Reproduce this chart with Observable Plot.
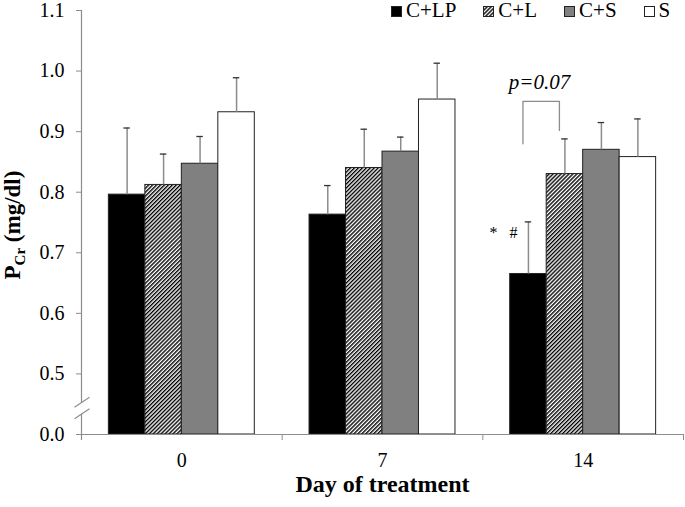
<!DOCTYPE html>
<html><head><meta charset="utf-8">
<script src="https://cdn.jsdelivr.net/npm/d3@7"></script>
<script src="https://cdn.jsdelivr.net/npm/@observablehq/plot@0.6"></script>
<style>
body{margin:0;background:#fff;}
#wrap{position:relative;width:685px;height:507px;font-family:"Liberation Serif","Times New Roman",serif;}
#legend{position:absolute;left:391px;top:0px;font-size:21px;line-height:21px;white-space:nowrap;color:#000;z-index:2;}
#legend .item{display:inline-block;margin-right:27px;}
#legend svg{vertical-align:baseline;margin-right:4px;}
g[aria-label="fx-axis label"] text{font-weight:bold;font-size:24px;}
</style></head>
<body>
<svg width="0" height="0" style="position:absolute">
<defs><pattern id="hatch" patternUnits="userSpaceOnUse" width="2.8" height="2.8" patternTransform="rotate(45)">
<rect width="2.8" height="2.8" fill="white"/><rect width="1.4" height="2.8" fill="black"/></pattern></defs></svg>
<div id="wrap"><div id="legend"></div></div>
<script>
// ---- data ----
const days = ["0", "7", "14"];
const groups = ["C+LP", "C+L", "C+S", "S"];
const meanCLP = [0.796, 0.763, 0.665];
const meanCL  = [0.812, 0.840, 0.830];
const meanCS  = [0.847, 0.867, 0.870];
const meanS   = [0.932, 0.953, 0.858];
const errCLP = [0.110, 0.048, 0.086];
const errCL  = [0.051, 0.064, 0.058];
const errCS  = [0.045, 0.024, 0.045];
const errS   = [0.057, 0.060, 0.063];
const yTickValues = [0.4, 0.5, 0.6, 0.7, 0.8, 0.9, 1.0, 1.1];
const yTickLabels = ["0.0", "0.5", "0.6", "0.7", "0.8", "0.9", "1.0", "1.1"];
const axisZero = 0.4;          // display position of 0.0 on the broken axis
const yMax = 1.1;
const breakTop = 0.4525, breakBottom = 0.4335; // axis break
const xTitle = "Day of treatment";
const pText = "p=0.07";
const pY = 0.9818;
const bracketDay = "14";
const bracketGroups = ["C+LP", "C+LP", "C+L", "C+L"];
const bracketY = [0.880, 0.950, 0.950, 0.902];
const sigText = "*\u00a0\u00a0\u00a0#";
const groupFills = ["black", "url(#hatch)", "#808080", "white"];

const means = [meanCLP, meanCL, meanCS, meanS];
const errs = [errCLP, errCL, errCS, errS];
const rows = [];
groups.forEach((g, gi) => days.forEach((d, di) =>
  rows.push({day: d, group: g, value: means[gi][di], err: errs[gi][di]})));
const bracketRows = bracketGroups.map((g, i) => ({day: bracketDay, group: g, y: bracketY[i]}));
const sigRows = rows.filter(r => r.day === "14" && r.group === "C+LP");

const W = 685, H = 507, mL = 81, mR = 2, mT = 10, mB = 73;
const fxStep = (W - mL - mR) / days.length;
const axisGray = "#8c8c8c";

const chart = Plot.plot({
  width: W, height: H,
  marginTop: mT, marginBottom: mB, marginLeft: mL, marginRight: mR,
  style: {fontFamily: "Liberation Serif, Times New Roman, serif", fontSize: "20px", background: "white", color: "black"},
  fx: {domain: days, padding: 0, round: false},
  x: {domain: groups, paddingInner: 0, paddingOuter: 0.75, round: false, axis: null},
  y: {domain: [axisZero, yMax]},
  color: {domain: groups, range: groupFills},
  marks: [
    Plot.barY(rows, {fx: "day", x: "group", y1: axisZero, y2: "value", fill: "group", stroke: "#222", strokeWidth: 1}),
    Plot.ruleX(rows, {fx: "day", x: "group", y1: "value", y2: d => d.value + d.err, stroke: axisGray, strokeWidth: 1.5}),
    Plot.tickY(rows, {fx: "day", x: "group", y: d => d.value + d.err, stroke: "#333", strokeWidth: 1.3, insetLeft: 15, insetRight: 15}),
    Plot.ruleY([axisZero], {stroke: axisGray, strokeWidth: 1.2}),
    Plot.axisY(yTickValues, {tickFormat: d => yTickLabels[yTickValues.indexOf(d)], tickSize: 5, tickPadding: 12, stroke: axisGray, fill: "black", label: null}),
    Plot.axisFx({anchor: "bottom", tickSize: 0, tickPadding: 18, label: xTitle, labelAnchor: "center", labelOffset: 57, fill: "black"}),
    Plot.axisFx({anchor: "bottom", tickSize: 6, fill: "none", dx: fxStep / 2, stroke: axisGray, label: null}),
    Plot.line(bracketRows, {fx: "day", x: "group", y: "y", stroke: axisGray, strokeWidth: 1.3, dx: -5.5}),
    Plot.text([pText], {fx: () => bracketDay, x: () => "C+LP", y: () => pY, text: d => d, fontStyle: "italic", fontSize: 21, dx: 11, lineAnchor: "middle"}),
    Plot.text(sigRows, {fx: "day", x: "group", y: d => d.value + d.err, text: () => sigText, fontSize: 16, textAnchor: "end", lineAnchor: "top", dx: -11, dy: 5})
  ]
});

document.getElementById("wrap").appendChild(chart);

// broken y axis line, break marks and y label
const ys = chart.scale("y");
const svg = d3.select(chart);
const g = svg.append("g").attr("stroke", axisGray).attr("stroke-width", 1.2).attr("fill", "none");
const ax = mL + 0.5;
g.append("line").attr("x1", ax).attr("x2", ax).attr("y1", ys.apply(yMax)).attr("y2", ys.apply(breakTop));
g.append("line").attr("x1", ax).attr("x2", ax).attr("y1", ys.apply(breakBottom)).attr("y2", ys.apply(axisZero) + 6);
for (const v of [breakTop, breakBottom]) {
  const cy = ys.apply(v);
  g.append("line").attr("x1", ax - 7).attr("y1", cy + 5).attr("x2", ax + 8).attr("y2", cy - 5);
}
const lab = svg.append("text")
  .attr("transform", `translate(19.5,${(ys.apply(yMax) + ys.apply(axisZero)) / 2 + 3}) rotate(-90)`)
  .attr("text-anchor", "middle").attr("font-weight", "bold").attr("font-size", 23).attr("fill", "black");
lab.append("tspan").text("P");
lab.append("tspan").attr("font-size", 15).attr("dy", 5).text("Cr");
lab.append("tspan").attr("dy", -5).text("\u00a0(mg/dl)");

// legend
const leg = d3.select("#legend");
groups.forEach((name, i) => {
  const item = leg.append("span").attr("class", "item");
  const s = item.append("svg").attr("width", 11).attr("height", 11);
  s.append("rect").attr("x", 0.5).attr("y", 0.5).attr("width", 10).attr("height", 10)
    .attr("fill", groupFills[i]).attr("stroke", "#222").attr("stroke-width", 1);
  item.append("span").text(name);
});
</script>
</body></html>
